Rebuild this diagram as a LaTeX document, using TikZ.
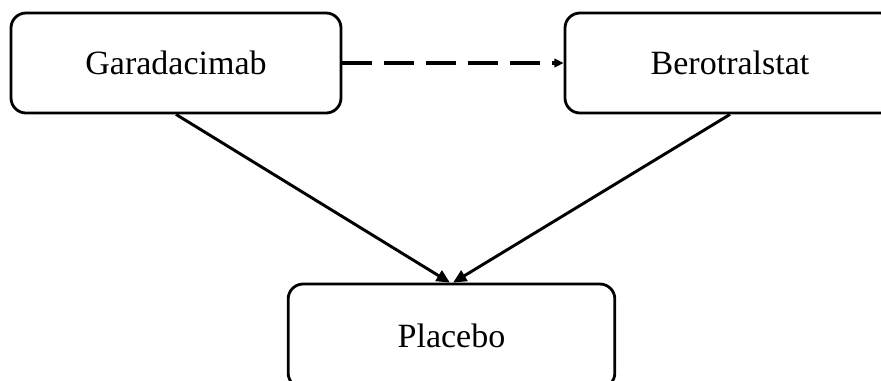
\documentclass[tikz,border=0pt]{standalone}
\usepackage{fontspec}
\setmainfont{Liberation Serif}
\usetikzlibrary{arrows.meta}
\begin{document}
\begin{tikzpicture}[x=0.75pt,y=-0.75pt,
  armbox/.style={draw=black, line width=2.1pt, rounded corners=11.25pt,
    fill=white, minimum width=247.5pt, minimum height=75pt, inner sep=0pt,
    font=\fontsize{25.5pt}{30pt}\selectfont},
  direct/.style={line width=2.2pt, -{Triangle[length=10pt,width=9pt]}},
  indirect/.style={line width=2.7pt, dash pattern=on 22.5pt off 9pt,
    -{Triangle[length=7pt,width=6.5pt]}}]
  \clip (0,0) rectangle (881,380);
  \fill[white] (0,0) rectangle (881,380);
  % treatment boxes
  \node[armbox] (gar) at (176,63) {Garadacimab};
  \node[armbox] (bero) at (730,63) {Berotralstat};
  \node[armbox, minimum width=245pt, minimum height=78pt] (plac) at (451.5,336) {Placebo};
  % comparisons
  \draw[indirect] (gar.east) -- (bero.west);
  \draw[direct] (gar.south) -- ([xshift=-1.2pt]plac.north);
  \draw[direct] (bero.south) -- ([xshift=1.2pt]plac.north);
\end{tikzpicture}
\end{document}
